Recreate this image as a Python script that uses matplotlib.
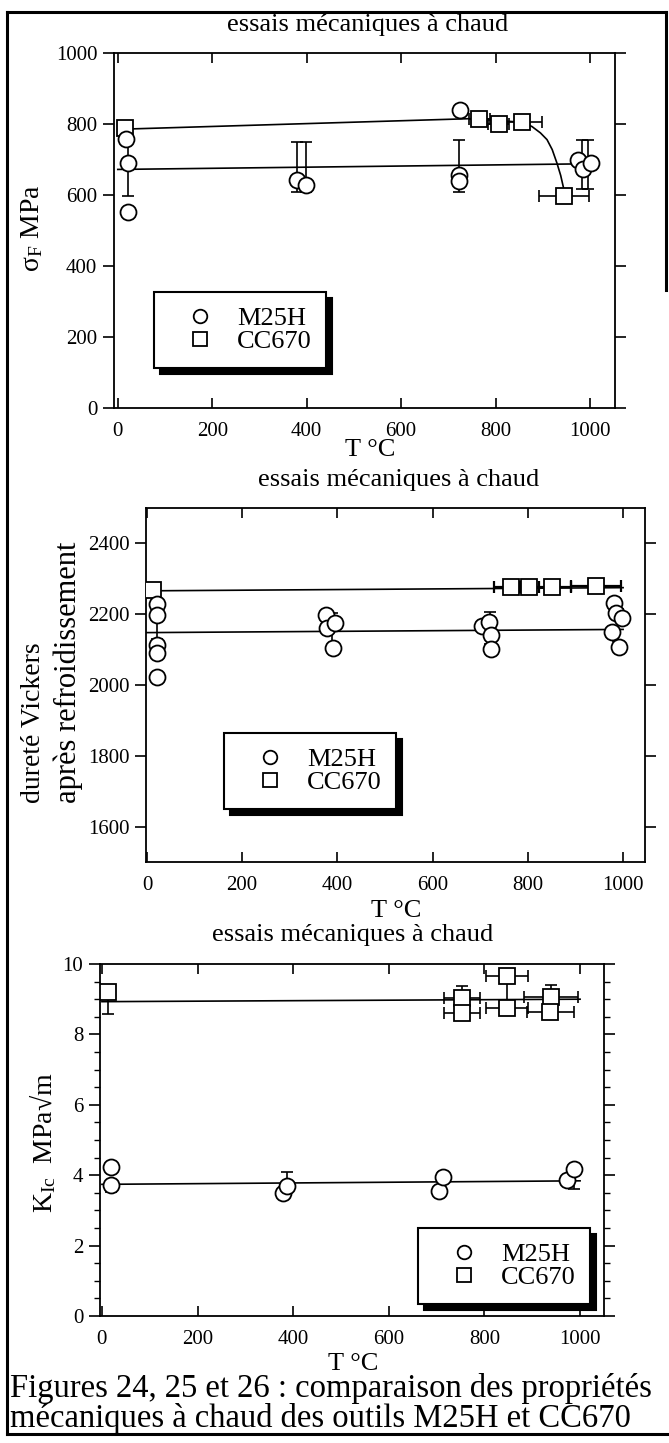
import numpy as np
import matplotlib
matplotlib.use('Agg')
import matplotlib.pyplot as plt
from matplotlib.lines import Line2D
from matplotlib.ticker import MultipleLocator

plt.rcParams['font.family'] = ['Liberation Serif', 'DejaVu Serif']
plt.rcParams['mathtext.fontset'] = 'custom'
plt.rcParams['mathtext.rm'] = 'Liberation Serif'
plt.rcParams['mathtext.it'] = 'Liberation Serif:italic'

# ---- figure 24 : flexural strength (MPa) ----
sf_m25h_T = [18, 21, 22, 380, 398, 725, 723, 723, 975, 985, 1002]
sf_m25h = [757, 690, 553, 643, 629, 840, 657, 640, 700, 672, 690]
sf_cc670_T = [16, 766, 807, 856, 945]
sf_cc670 = [790, 815, 800, 805, 597]
# error bars (T, low end, high end)
sf_m25h_eT = [21, 380, 398, 723, 983, 996]
sf_m25h_emid = [690, 643, 629, 657, 672, 690]
sf_m25h_elo = [597, 608, 608, 608, 616, 616]
sf_m25h_ehi = [757, 748, 748, 756, 756, 756]
sf_cc670_xerr = [22, 22, 42, 53]
# fitted curves
sf_fit_m25h_T = [0, 1000]
sf_fit_m25h = [672, 688]
sf_fit_cc670_T = [0, 745, 856, 877, 895, 909, 920, 930, 938, 944]
sf_fit_cc670 = [785, 815, 805, 793, 775, 756, 728, 690, 655, 620]

# ---- figure 25 : Vickers hardness after cooling ----
hv_m25h_T = [21, 21, 21, 21, 21, 377, 379, 394, 390, 704, 718, 722, 722,
             981, 985, 998, 977, 992]
hv_m25h = [2228, 2198, 2113, 2089, 2024, 2198, 2160, 2174, 2104, 2168, 2177,
           2140, 2102, 2233, 2202, 2188, 2149, 2106]
hv_cc670_T = [13, 765, 803, 851, 943]
hv_cc670 = [2268, 2278, 2278, 2278, 2280]
hv_cc670_xerr = [0, 37, 20, 40, 52]
hv_m25h_eT = [21, 388, 720, 990]
hv_m25h_emid = [2160, 2155, 2160, 2170]
hv_m25h_elo = [2130, 2110, 2115, 2125]
hv_m25h_ehi = [2198, 2202, 2207, 2215]
hv_fit_T = [0, 1000]
hv_fit_m25h = [2148, 2157]
hv_fit_cc670 = [2266, 2275]

# ---- figure 26 : toughness K1c ----
kc_m25h_T = [20, 20, 379, 388, 705, 714, 973, 987]
kc_m25h = [4.22, 3.72, 3.49, 3.68, 3.55, 3.96, 3.87, 4.19]
kc_cc670_T = [13, 753, 753, 848, 848, 939, 938]
kc_cc670 = [9.2, 9.02, 8.6, 9.65, 8.74, 9.05, 8.63]
kc_cc670_xerr = [0, 38, 38, 44, 44, 56, 50]
kc_cc670_ylo = [0.62, 0, 0, 0.75, 0, 0, 0]
kc_cc670_yhi = [0, 0.36, 0, 0, 0, 0.35, 0]
kc_m25h_eT = [20, 388, 714, 987]
kc_m25h_emid = [3.72, 3.68, 3.96, 4.19]
kc_m25h_elo = [3.52, 3.68, 3.96, 3.62]
kc_m25h_ehi = [3.72, 4.08, 4.1, 4.19]
kc_fit_T = [0, 1000]
kc_fit_m25h = [3.74, 3.84]
kc_fit_cc670 = [8.93, 9.0]

title = 'essais mécaniques à chaud'
xlab = 'T °C'
legend_labels = ['M25H', 'CC670']
caption = ['Figures 24, 25 et 26 : comparaison des propriétés',
           'mécaniques à chaud des outils M25H et CC670']

W, H = 669, 1443
fig = plt.figure(figsize=(W / 100, H / 100), dpi=100)


def fx(px):
    return px / W


def fy(py):
    return 1 - py / H


def make_axes(l, t, r, b):
    return fig.add_axes([fx(l), fy(b), (r - l) / W, (b - t) / H])


def style(ax):
    for s in ax.spines.values():
        s.set_linewidth(1.3)
    ax.tick_params(axis='y', which='major', direction='out', left=True, right=True,
                   length=8, width=1.2, pad=4, labelsize=15)
    ax.tick_params(axis='y', which='minor', direction='out', left=True, right=True,
                   length=4, width=1.0)
    ax.tick_params(axis='x', direction='in', top=True, bottom=True,
                   length=7, width=1.2, pad=10, labelsize=15)
    ax.set_xticks([0, 200, 400, 600, 800, 1000])


def draw_panel(ax, m_T, m_v, c_T, c_v, fitT_m, fit_m, fitT_c, fit_c):
    ax.plot(fitT_m, fit_m, color='k', lw=1.2, zorder=1)
    ax.plot(fitT_c, fit_c, color='k', lw=1.2, zorder=1)
    h1, = ax.plot(m_T, m_v, 'o', ms=11.5, mfc='white', mec='k', mew=1.3,
                  ls='none', zorder=4, label=legend_labels[0])
    h2, = ax.plot(c_T, c_v, 's', ms=12, mfc='white', mec='k', mew=1.3,
                  ls='none', zorder=3, label=legend_labels[1])
    return [h1, h2]


def add_legend(ax, handles, left, top):
    leg = ax.legend(handles=handles, loc='upper left',
                    bbox_to_anchor=(fx(left), fy(top)), bbox_transform=fig.transFigure,
                    borderaxespad=0, fontsize=19, labelspacing=0.0,
                    handlelength=2.4, handletextpad=0.2, borderpad=0.55,
                    numpoints=1, markerscale=0.85, fancybox=False, framealpha=1,
                    edgecolor='k', shadow={'ox': 4, 'oy': -4, 'color': 'k', 'alpha': 1})
    leg.get_frame().set_linewidth(1.5)
    return leg


def vbars(ax, T, mid, lo, hi):
    mid = np.array(mid)
    ax.errorbar(T, mid, yerr=[mid - np.array(lo), np.array(hi) - mid], fmt='none',
                ecolor='k', elinewidth=1.2, capsize=4, capthick=1.2, zorder=2)


# ---------- panel 1 ----------
ax1 = make_axes(114, 53, 615, 408)
style(ax1)
hs = draw_panel(ax1, sf_m25h_T, sf_m25h, sf_cc670_T, sf_cc670,
                sf_fit_m25h_T, sf_fit_m25h, sf_fit_cc670_T, sf_fit_cc670)
vbars(ax1, sf_m25h_eT, sf_m25h_emid, sf_m25h_elo, sf_m25h_ehi)
ax1.errorbar(sf_cc670_T[1:], sf_cc670[1:], xerr=sf_cc670_xerr, fmt='none',
             ecolor='k', elinewidth=1.2, capsize=4, capthick=1.2, zorder=2)
ax1.set_xlim(-8, 1053)
ax1.set_ylim(0, 1000)
ax1.set_yticks([0, 200, 400, 600, 800, 1000])
add_legend(ax1, hs, 154, 292)
fig.text(fx(368), fy(25), title, ha='center', va='center', fontsize=19)
fig.text(fx(370), fy(450), xlab, ha='center', va='center', fontsize=19)
fig.text(fx(32), fy(228), 'σ$_{\\mathrm{F}}$ MPa', rotation=90,
         ha='center', va='center', fontsize=20)

# ---------- panel 2 ----------
ax2 = make_axes(146, 508, 645, 862)
style(ax2)
hs = draw_panel(ax2, hv_m25h_T, hv_m25h, hv_cc670_T, hv_cc670,
                hv_fit_T, hv_fit_m25h, hv_fit_T, hv_fit_cc670)
vbars(ax2, hv_m25h_eT, hv_m25h_emid, hv_m25h_elo, hv_m25h_ehi)
ax2.errorbar(hv_cc670_T, hv_cc670, xerr=hv_cc670_xerr, fmt='none',
             ecolor='k', elinewidth=1.6, capsize=4, capthick=1.6, zorder=2)
ax2.set_xlim(-2, 1046)
ax2.set_ylim(1500, 2500)
ax2.set_yticks([1600, 1800, 2000, 2200, 2400])
add_legend(ax2, hs, 224, 733)
fig.text(fx(399), fy(480), title, ha='center', va='center', fontsize=19)
fig.text(fx(396), fy(911), xlab, ha='center', va='center', fontsize=19)
fig.text(fx(34), fy(803), 'dureté Vickers', rotation=90,
         ha='center', va='bottom', fontsize=20)
fig.text(fx(68), fy(803), 'après refroidissement', rotation=90,
         ha='center', va='bottom', fontsize=22)

# ---------- panel 3 ----------
ax3 = make_axes(100, 964, 604, 1316)
style(ax3)
hs = draw_panel(ax3, kc_m25h_T, kc_m25h, kc_cc670_T, kc_cc670,
                kc_fit_T, kc_fit_m25h, kc_fit_T, kc_fit_cc670)
vbars(ax3, kc_m25h_eT, kc_m25h_emid, kc_m25h_elo, kc_m25h_ehi)
ax3.errorbar(kc_cc670_T, kc_cc670, xerr=kc_cc670_xerr,
             yerr=[kc_cc670_ylo, kc_cc670_yhi], fmt='none',
             ecolor='k', elinewidth=1.2, capsize=4, capthick=1.2, zorder=2)
ax3.set_xlim(-4, 1050)
ax3.set_ylim(0, 10)
ax3.set_yticks([0, 2, 4, 6, 8, 10])
ax3.yaxis.set_minor_locator(MultipleLocator(0.5))
add_legend(ax3, hs, 418, 1228)
fig.text(fx(353), fy(935), title, ha='center', va='center', fontsize=19)
fig.text(fx(353), fy(1364), xlab, ha='center', va='center', fontsize=19)
fig.text(fx(43), fy(1143), 'K$_{\\mathrm{Ic}}$  MPa√m', rotation=90,
         ha='center', va='center', fontsize=20)

# caption
fig.text(fx(10), fy(1389), caption[0], ha='left', va='center', fontsize=23.5)
fig.text(fx(10), fy(1419), caption[1], ha='left', va='center', fontsize=23.5)

# page frame
for (xa, xb, ya, yb) in [(7, 666, 12, 12), (7, 7, 12, 1434), (7, 669, 1434, 1434),
                         (666, 666, 12, 290)]:
    fig.add_artist(Line2D([fx(xa), fx(xb)], [fy(ya), fy(yb)], color='k', lw=2.2,
                          transform=fig.transFigure))

fig.savefig('out.png', dpi=100)
